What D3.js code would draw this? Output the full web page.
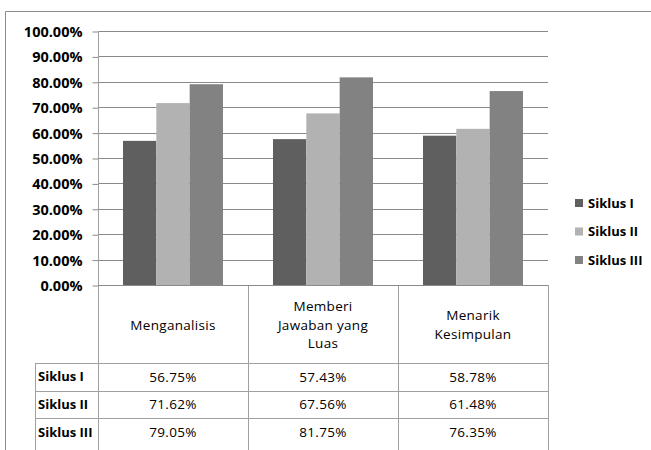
<!DOCTYPE html>
<html>
  <head>
    <style>
      body { margin: 0; background: #fff; }
      text { font-family: "Open Sans", Lato, sans-serif; fill: #000; }
    </style>
  </head>
  <body>
    <div id="my_dataviz"></div>
  </body>
</html>

<script src="https://d3js.org/d3.v7.min.js"></script>

<script>
    // data
    var categories = ["Menganalisis", "Memberi Jawaban yang Luas", "Menarik Kesimpulan"];
    var categoryLines = [["Menganalisis"], ["Memberi", "Jawaban yang", "Luas"], ["Menarik", "Kesimpulan"]];
    var seriesNames = ["Siklus I", "Siklus II", "Siklus III"];
    var siklus1 = [0.5675, 0.5743, 0.5878];
    var siklus2 = [0.7162, 0.6756, 0.6148];
    var siklus3 = [0.7905, 0.8175, 0.7635];
    var seriesValues = [siklus1, siklus2, siklus3];
    var yTicks = [0, 0.1, 0.2, 0.3, 0.4, 0.5, 0.6, 0.7, 0.8, 0.9, 1.0];
    var colors = ["#5f5f5f", "#b2b2b2", "#828282"];

    var width = 651, height = 450;

    var svg = d3.select("#my_dataviz")
      .append("svg")
        .attr("width", width)
        .attr("height", height);

    // outer chart frame (top + left visible)
    svg.append("path")
      .attr("d", "M5.5,450 V11.5 H651")
      .attr("fill", "none")
      .attr("stroke", "#8c8c8c");

    var plotLeft = 98, plotRight = 548, plotTop = 31, plotBottom = 285;

    var y = d3.scaleLinear().domain([0, 1]).range([plotBottom, plotTop]);
    var x = d3.scaleBand().domain(categories).range([plotLeft, plotRight]);
    var xs = d3.scaleBand().domain(seriesNames).range([25, x.bandwidth() - 25]);

    // gridlines
    svg.append("g")
      .selectAll("line")
      .data(yTicks.slice(1))
      .enter()
      .append("line")
        .attr("x1", plotLeft)
        .attr("x2", plotRight)
        .attr("y1", function(d) { return Math.round(y(d)) + 0.5; })
        .attr("y2", function(d) { return Math.round(y(d)) + 0.5; })
        .attr("stroke", "#8a8a8a");

    // y axis
    var yAxis = svg.append("g")
      .attr("transform", "translate(" + (plotLeft + 0.5) + ",0.5)")
      .call(d3.axisLeft(y).tickValues(yTicks).tickSize(6).tickSizeOuter(0)
        .tickFormat(function(d) { return (d * 100).toFixed(2) + "%"; }));
    yAxis.select(".domain").remove();
    yAxis.selectAll("line").attr("stroke", "#8a8a8a");
    yAxis.selectAll("text")
      .attr("x", -16)
      .attr("dy", "0.35em")
      .style("font-family", "'Open Sans', sans-serif")
      .style("font-size", "14.5px")
      .style("font-weight", "bold")
      .attr("fill", "#000");

    // bars
    seriesNames.forEach(function(s, si) {
      svg.append("g")
        .selectAll("rect")
        .data(seriesValues[si])
        .enter()
        .append("rect")
          .attr("x", function(d, i) { return x(categories[i]) + xs(s); })
          .attr("y", function(d) { return y(d); })
          .attr("width", xs.bandwidth())
          .attr("height", function(d) { return y(0) - y(d); })
          .attr("fill", colors[si]);
    });

    // data table
    var tableColor = "#a0a0a0";
    var headerBottom = 363;
    var rows = d3.scaleBand().domain(seriesNames).range([headerBottom, headerBottom + 83]);
    var rowLeft = 35;

    var grid = svg.append("g").attr("stroke", tableColor).attr("fill", "none");
    // axis line and vertical lines
    grid.append("line").attr("x1", plotLeft + 0.5).attr("x2", plotLeft + 0.5).attr("y1", plotTop).attr("y2", height);
    categories.forEach(function(c) {
      var xr = Math.round(x(c) + x.bandwidth()) + 0.5;
      grid.append("line").attr("x1", xr).attr("x2", xr).attr("y1", plotBottom).attr("y2", height);
    });
    grid.append("line").attr("x1", plotLeft).attr("x2", plotRight).attr("y1", plotBottom + 0.5).attr("y2", plotBottom + 0.5).attr("stroke", "#8a8a8a");
    grid.append("line").attr("x1", rowLeft + 0.5).attr("x2", rowLeft + 0.5).attr("y1", headerBottom).attr("y2", height);
    seriesNames.forEach(function(s) {
      var yr = Math.round(rows(s)) + 0.5;
      grid.append("line").attr("x1", rowLeft).attr("x2", plotRight + 1).attr("y1", yr).attr("y2", yr);
    });

    // category headers
    categoryLines.forEach(function(lines, i) {
      var cx = x(categories[i]) + x.bandwidth() / 2;
      var cy = (plotBottom + headerBottom) / 2 + 1;
      var lh = 18.5;
      lines.forEach(function(l, j) {
        svg.append("text")
          .attr("x", cx)
          .attr("y", cy + (j - (lines.length - 1) / 2) * lh)
          .attr("dy", "0.35em")
          .attr("text-anchor", "middle")
          .style("font-size", "13.5px")
          .style("letter-spacing", "0.3px")
          .text(l);
      });
    });

    // row labels and values
    seriesNames.forEach(function(s, si) {
      var cy = rows(s) + rows.bandwidth() / 2;
      svg.append("text")
        .attr("x", rowLeft + 3)
        .attr("y", cy)
        .attr("dy", "0.35em")
        .style("font-size", "13px")
        .style("font-weight", "bold")
        .text(s);
      seriesValues[si].forEach(function(v, i) {
        svg.append("text")
          .attr("x", x(categories[i]) + x.bandwidth() / 2)
          .attr("y", cy)
          .attr("dy", "0.35em")
          .attr("text-anchor", "middle")
          .style("font-size", "13.5px")
          .style("letter-spacing", "0.3px")
          .text((v * 100).toFixed(2) + "%");
      });
    });

    // legend
    var legend = svg.append("g")
      .selectAll("g")
      .data(seriesNames)
      .enter()
      .append("g")
        .attr("transform", function(d, i) { return "translate(575," + (203 + i * 28.5) + ")"; });
    legend.append("rect")
      .attr("x", 0).attr("y", -4).attr("width", 8).attr("height", 8)
      .attr("fill", function(d, i) { return colors[i]; });
    legend.append("text")
      .attr("x", 13)
      .attr("dy", "0.35em")
      .style("font-size", "13px")
      .style("font-weight", "bold")
      .text(function(d) { return d; });
</script>
